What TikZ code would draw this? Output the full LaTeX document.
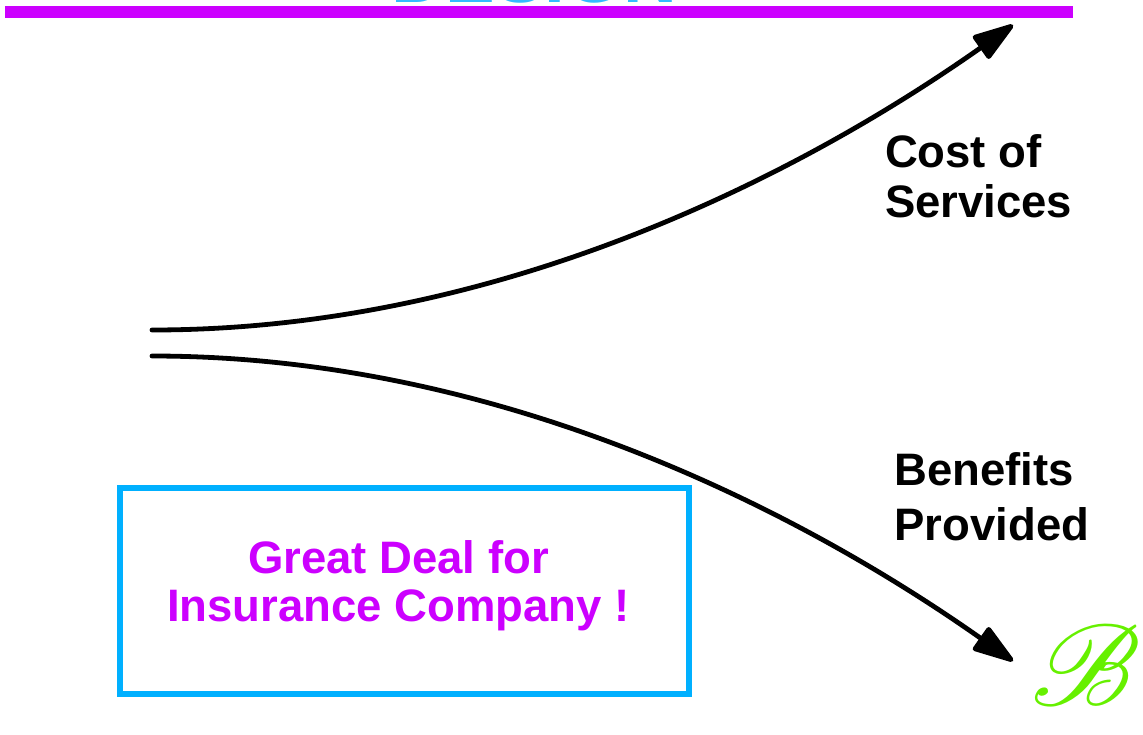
\documentclass[tikz,border=0pt]{standalone}
\usepackage{fontspec}
\setmainfont{Liberation Sans}
\usepackage{mathrsfs}
\usetikzlibrary{arrows.meta}
\definecolor{barpurple}{HTML}{CC00FF}
\definecolor{boxblue}{HTML}{00B0FF}
\definecolor{titleblue}{HTML}{33BBFF}
\definecolor{bgreen}{HTML}{66F000}
\tikzset{
  lbl/.style={font=\bfseries\fontsize{45.5}{#1}\selectfont, inner sep=0pt, outer sep=0pt},
  flow/.style={line width=4.8pt, line cap=round, -{Triangle[length=46pt,width=29pt,round]}},
}
\begin{document}
\begin{tikzpicture}[x=1pt,y=-1pt]
\useasboundingbox (0,0) rectangle (1143,734);
% clipped title and bar
\node[anchor=base west, inner sep=0pt, font=\bfseries\fontsize{74.5}{80}\selectfont, text=titleblue] (title) at (391.6,2) {DESIGN};
\fill[barpurple] (5,6) rectangle (1073,18);
% start and end points of the two arrows
\coordinate (s1) at (152,330);
\coordinate (e1) at (1013,25);
\coordinate (s2) at (152,356);
\coordinate (e2) at (1013,661);
\draw[flow] (s1) .. controls (500,330) and (800,175) .. (e1);
\draw[flow] (s2) .. controls (500,356) and (800,511) .. (e2);
% labels (anchor base = baseline of the last line)
\node[lbl=50, align=left, anchor=base west] (cost) at (885,217) {Cost of\\Services};
\node[lbl=55, align=left, anchor=base west] (ben) at (894.5,540) {Benefits\\Provided};
% box
\node[draw=boxblue, line width=6pt, minimum width=569pt, minimum height=206pt, inner sep=0pt, outer sep=0pt, anchor=north west] (box) at (120,488) {};
\node[lbl=48, align=center, anchor=base, text=barpurple] (deal) at (398.5,621) {Great Deal for\\Insurance Company !};
% green B
\node[text=bgreen, inner sep=0pt, anchor=east] (bmark) at (1141,665) {\scalebox{11.5}{$\mathscr{B}$}};
\end{tikzpicture}
\end{document}
